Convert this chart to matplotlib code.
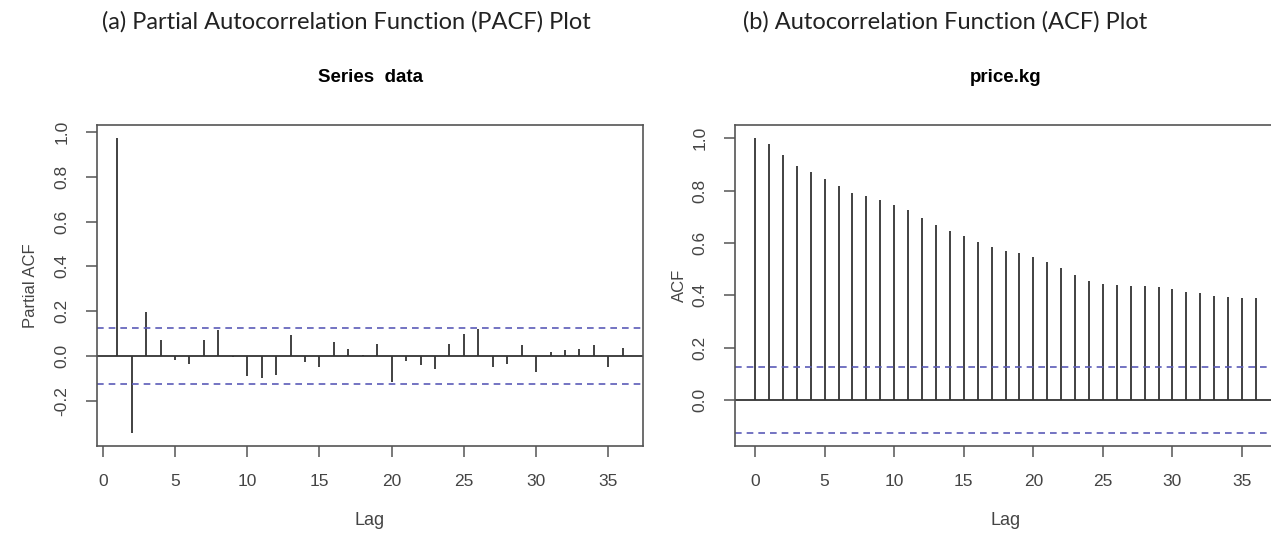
import numpy as np
import matplotlib.pyplot as plt

# PACF values, lags 1..36
pacf_lags = np.arange(1, 37)
pacf_vals = [0.97, -0.34, 0.197, 0.071, -0.018, -0.033, 0.071, 0.116, -0.005, -0.088,
             -0.095, -0.084, 0.093, -0.025, -0.048, 0.064, 0.034, 0.004, 0.053, -0.114,
             -0.022, -0.037, -0.059, 0.053, 0.101, 0.123, -0.050, -0.033, 0.049, -0.070,
             0.019, 0.027, 0.030, 0.049, -0.048, 0.037]

# ACF values, lags 0..36
acf_lags = np.arange(0, 37)
acf_vals = [1.0, 0.979, 0.935, 0.896, 0.870, 0.844, 0.819, 0.791, 0.778, 0.765,
            0.746, 0.727, 0.695, 0.667, 0.644, 0.625, 0.602, 0.584, 0.570, 0.561,
            0.548, 0.527, 0.504, 0.478, 0.456, 0.442, 0.440, 0.437, 0.434, 0.430,
            0.425, 0.414, 0.408, 0.399, 0.395, 0.391, 0.389]

conf = 0.126
xticks = [0, 5, 10, 15, 20, 25, 30, 35]

plt.rcParams['font.family'] = 'Liberation Sans'

fig = plt.figure(figsize=(12.71, 5.33), dpi=100)
ax1 = fig.add_axes([97/1271, 1-446/533, (643-97)/1271, (446-125)/533])
ax2 = fig.add_axes([735/1271, 1-446/533, (1276-735)/1271, (446-125)/533])

spine_col = '#555555'
bar_col = '#333333'
dash_col = '#5b5bb8'
text_col = '#444444'


def style(ax, yticks):
    for s in ax.spines.values():
        s.set_color(spine_col)
        s.set_linewidth(1.2)
    ax.set_xticks(xticks)
    ax.set_yticks(yticks)
    ax.set_yticklabels([f"{v:.1f}" for v in yticks], rotation=90, va='center')
    ax.tick_params(axis='x', length=8, width=1.1, color=spine_col, pad=12,
                   labelsize=12.5, labelcolor=text_col)
    ax.tick_params(axis='y', length=8, width=1.1, color=spine_col, pad=12,
                   labelsize=12.5, labelcolor=text_col)
    ax.set_xlabel('Lag', fontsize=13, color=text_col, labelpad=17)


# (a) PACF
ax1.vlines(pacf_lags, 0, pacf_vals, color=bar_col, lw=1.3)
ax1.axhline(0, color=bar_col, lw=1.3)
ax1.axhline(conf, color=dash_col, lw=1.2, ls=(0, (4, 3)))
ax1.axhline(-conf, color=dash_col, lw=1.2, ls=(0, (4, 3)))
ax1.set_xlim(-0.4, 37.4)
ax1.set_ylim(-0.40, 1.03)
style(ax1, [-0.2, 0.0, 0.2, 0.4, 0.6, 0.8, 1.0])
ax1.set_ylabel('Partial ACF', fontsize=12, color=text_col, labelpad=12)
ax1.set_title('Series  data', fontsize=13.5, fontweight='bold', pad=31)

# (b) ACF
ax2.vlines(acf_lags, 0, acf_vals, color=bar_col, lw=1.3)
ax2.axhline(0, color=bar_col, lw=1.3)
ax2.axhline(conf, color=dash_col, lw=1.2, ls=(0, (4, 3)))
ax2.axhline(-conf, color=dash_col, lw=1.2, ls=(0, (4, 3)))
ax2.set_xlim(-1.44, 37.44)
ax2.set_ylim(-0.176, 1.051)
style(ax2, [0.0, 0.2, 0.4, 0.6, 0.8, 1.0])
ax2.set_ylabel('ACF', fontsize=12, color=text_col, labelpad=4)
ax2.set_title('price.kg', fontsize=13.5, fontweight='bold', pad=31)

fig.text(346/1271, 1-22/533, '(a) Partial Autocorrelation Function (PACF) Plot',
         ha='center', va='center', fontsize=17, family='Lato', color='#222222')
fig.text(945/1271, 1-22/533, '(b) Autocorrelation Function (ACF) Plot',
         ha='center', va='center', fontsize=17, family='Lato', color='#222222')

fig.savefig('out.png', dpi=100)
